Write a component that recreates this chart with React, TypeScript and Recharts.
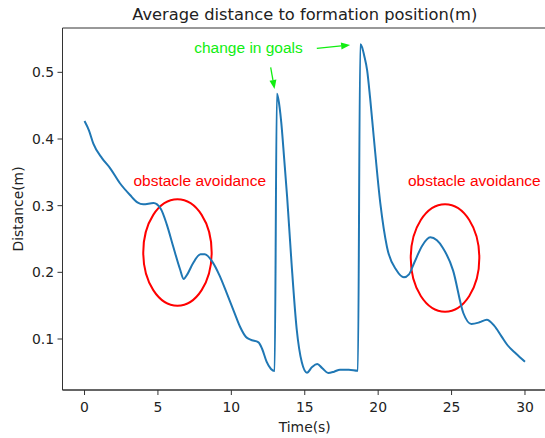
import { LineChart, Line, XAxis, YAxis, ReferenceArea, ReferenceDot, ReferenceLine } from "recharts";

// time samples (s) and the average distance to formation position (m)
const timeS = [
  0, 0.3, 0.6, 1.2, 1.75, 2.4, 3.1, 3.6, 4.0, 4.7, 5.2, 5.6, 6.05, 6.5, 6.75, 7.0, 7.4, 7.9, 8.2, 8.7,
  9.2, 9.7, 10.2, 10.6, 11.0, 11.3, 11.85, 12.1, 12.4, 12.7, 12.95, 13.1, 13.2, 13.4, 13.6, 13.8, 14.1,
  14.45, 14.8, 15.15, 15.5, 15.85, 16.2, 16.6, 17.0, 17.4, 18.0, 18.62, 18.78, 18.9, 19.05, 19.25, 19.45,
  19.7, 20.15, 20.6, 21.25, 21.75, 22.1, 22.45, 23.0, 23.55, 24.0, 24.4, 25.1, 25.8, 26.35, 26.9, 27.4,
  27.9, 28.4, 28.8, 29.4, 30.0,
];
const distanceM = [
  0.427, 0.413, 0.393, 0.371, 0.356, 0.334, 0.316, 0.305, 0.302, 0.304, 0.295, 0.272, 0.238, 0.205, 0.19,
  0.197, 0.214, 0.227, 0.227, 0.216, 0.195, 0.168, 0.14, 0.118, 0.103, 0.099, 0.095, 0.085, 0.066, 0.055,
  0.052, 0.468, 0.46, 0.425, 0.37, 0.313, 0.214, 0.115, 0.065, 0.0495, 0.058, 0.0625, 0.056, 0.049, 0.051,
  0.054, 0.054, 0.0525, 0.542, 0.538, 0.525, 0.503, 0.462, 0.403, 0.303, 0.238, 0.203, 0.1925, 0.197, 0.214,
  0.24, 0.2525, 0.248, 0.237, 0.203, 0.139, 0.1225, 0.125, 0.129, 0.12, 0.104, 0.091, 0.078, 0.066,
];

const xTicks = [0, 5, 10, 15, 20, 25, 30];
const yTicks = [0.1, 0.2, 0.3, 0.4, 0.5];
const xDomain = [-1.5, 31.5];
const yDomain = [0.0235, 0.5665];

// annotations (data coordinates)
const avoidLabels = [
  { x: 7.85, y: 0.33, text: "obstacle avoidance" },
  { x: 26.55, y: 0.33, text: "obstacle avoidance" },
];
const avoidEllipses = [
  { x1: 4.0, x2: 8.66, y1: 0.15, y2: 0.3095 },
  { x1: 22.22, x2: 26.89, y1: 0.141, y2: 0.302 },
];
const goalLabel = { x: 11.17, y: 0.5294, text: "change in goals" };
const goalArrows = [
  { from: [12.68, 0.5075], to: [12.94, 0.475] },
  { from: [15.82, 0.536], to: [18.09, 0.541] },
];

const data = timeS.map((t, i) => ({ t, d: distanceM[i] }));

const GREEN = "#11ee11";
const RED = "#ff0000";
const INK = "#222";
const FONT = "DejaVu Sans";

const Arrow = (p: any) => {
  const { x1, y1, x2, y2 } = p;
  const a = Math.atan2(y2 - y1, x2 - x1);
  const len = 9;
  const hw = 3.5;
  const bx = x2 - len * Math.cos(a);
  const by = y2 - len * Math.sin(a);
  const nx = -Math.sin(a) * hw;
  const ny = Math.cos(a) * hw;
  return (
    <g>
      <line x1={x1} y1={y1} x2={bx} y2={by} stroke={GREEN} strokeWidth={1.3} />
      <polygon points={`${x2},${y2} ${bx + nx},${by + ny} ${bx - nx},${by - ny}`} fill={GREEN} />
    </g>
  );
};

const labelShape = (text: string, color: string) => (p: any) => (
  <text x={p.cx} y={p.cy} textAnchor="middle" fill={color} fontFamily="Liberation Sans" fontSize={15.5}>
    {text}
  </text>
);

const ellipseShape = (p: any) => (
  <ellipse
    cx={p.x + p.width / 2}
    cy={p.y + p.height / 2}
    rx={p.width / 2}
    ry={p.height / 2}
    fill="none"
    stroke={RED}
    strokeWidth={2}
  />
);

export default function App() {
  return (
    <div style={{ position: "fixed", left: 0, top: 0, width: 545, height: 438, overflow: "hidden", background: "#fff" }}>
      <LineChart width={548} height={438} data={data} margin={{ top: 28, right: 1, bottom: 0, left: 0 }}>
        <XAxis
          dataKey="t"
          type="number"
          domain={xDomain}
          ticks={xTicks}
          allowDataOverflow
          height={48}
          tickSize={5}
          tickMargin={7}
          axisLine={{ stroke: "#333" }}
          tickLine={{ stroke: "#333" }}
          tick={{ fontSize: 13.9, fill: INK, fontFamily: FONT }}
          label={{ value: "Time(s)", position: "insideBottom", offset: 6.5, fontSize: 13.9, fill: INK, fontFamily: FONT }}
        />
        <YAxis
          type="number"
          domain={yDomain}
          ticks={yTicks}
          allowDataOverflow
          width={62.5}
          tickSize={5}
          tickMargin={3.5}
          tickFormatter={(v: number) => v.toFixed(1)}
          axisLine={{ stroke: "#333" }}
          tickLine={{ stroke: "#333" }}
          tick={{ fontSize: 13.9, fill: INK, fontFamily: FONT }}
          label={{
            value: "Distance(m)",
            angle: -90,
            position: "insideLeft",
            offset: 18,
            fontSize: 13.9,
            fill: INK,
            fontFamily: FONT,
            style: { textAnchor: "middle" },
          }}
        />
        <ReferenceArea
          x1={xDomain[0]}
          x2={xDomain[1]}
          y1={yDomain[0]}
          y2={yDomain[1]}
          fill="none"
          stroke="#333"
          strokeWidth={1}
          ifOverflow="visible"
        />
        <Line
          type="monotone"
          dataKey="d"
          stroke="#1f77b4"
          strokeWidth={2}
          dot={false}
          isAnimationActive={false}
        />
        {avoidEllipses.map((e, i) => (
          <ReferenceArea key={`e${i}`} x1={e.x1} x2={e.x2} y1={e.y1} y2={e.y2} shape={ellipseShape} ifOverflow="visible" />
        ))}
        {avoidLabels.map((l, i) => (
          <ReferenceDot key={`l${i}`} x={l.x} y={l.y} r={0} shape={labelShape(l.text, RED)} ifOverflow="visible" />
        ))}
        <ReferenceDot x={goalLabel.x} y={goalLabel.y} r={0} shape={labelShape(goalLabel.text, GREEN)} ifOverflow="visible" />
        {goalArrows.map((a, i) => (
          <ReferenceLine
            key={`a${i}`}
            segment={[
              { x: a.from[0], y: a.from[1] },
              { x: a.to[0], y: a.to[1] },
            ]}
            shape={Arrow}
            ifOverflow="visible"
          />
        ))}
      </LineChart>
      <svg width={545} height={438} style={{ position: "absolute", left: 0, top: 0, pointerEvents: "none" }}>
        <text x={304.75} y={20} textAnchor="middle" fontFamily={FONT} fontSize={16.3} fill={INK}>
          Average distance to formation position(m)
        </text>
      </svg>
    </div>
  );
}
